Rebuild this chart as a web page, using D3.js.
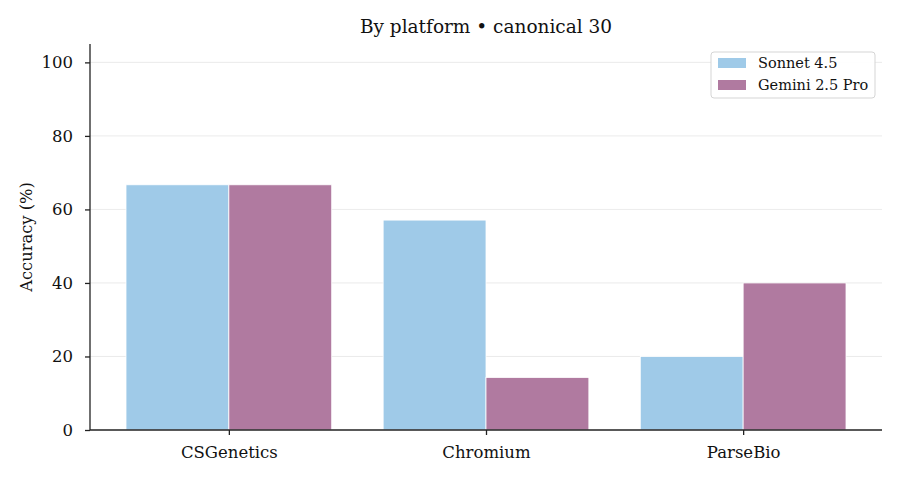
<!DOCTYPE html>
<html>
<head>
<meta charset="utf-8">
<script src="https://cdn.jsdelivr.net/npm/d3@7"></script>
<style>
  body { margin: 0; background: #fff; }
  svg { font-family: "DejaVu Serif", serif; }
</style>
</head>
<body>
<div id="chart"></div>
<script>
var categories = ["CSGenetics", "Chromium", "ParseBio"];
var seriesNames = ["Sonnet 4.5", "Gemini 2.5 Pro"];
var sonnetValues = [66.7, 57.1, 20.0];
var geminiValues = [66.7, 14.3, 40.0];
var yTicks = [0, 20, 40, 60, 80, 100];
var colors = ["#9fcae8", "#b07aa0"];

var width = 900, height = 480;
var margin = { left: 90, right: 18, top: 44, bottom: 50 };
var w = width - margin.left - margin.right;
var h = height - margin.top - margin.bottom;

var svg = d3.select("#chart").append("svg")
    .attr("width", width)
    .attr("height", height);

var g = svg.append("g")
    .attr("transform", "translate(" + margin.left + "," + margin.top + ")");

// matplotlib-like index axis: bars span -0.4..2.4, plus 5% margins
var x = d3.scaleLinear().domain([-0.54, 2.54]).range([0, w]);
var y = d3.scaleLinear().domain([0, 105]).range([h, 0]);
var barW = 0.4;

// grid
g.selectAll(".grid").data(yTicks.filter(function(d){ return d > 0; }))
    .enter().append("line")
    .attr("x1", 0).attr("x2", w)
    .attr("y1", function(d){ return y(d); })
    .attr("y2", function(d){ return y(d); })
    .attr("stroke", "#e6e6e6")
    .attr("stroke-width", 0.8);

var series = [sonnetValues, geminiValues];
series.forEach(function(vals, s) {
    g.selectAll(".bar" + s).data(vals).enter().append("rect")
        .attr("x", function(d, i){ return x(i - barW + s * barW); })
        .attr("width", x(barW) - x(0))
        .attr("y", function(d){ return y(d); })
        .attr("height", function(d){ return y(0) - y(d); })
        .attr("fill", colors[s])
        .attr("stroke", "#fff")
        .attr("stroke-width", 0.8);
});

// axes
var xAxis = d3.axisBottom(x)
    .tickValues([0, 1, 2])
    .tickFormat(function(d){ return categories[d]; })
    .tickSize(5).tickPadding(11);
var yAxis = d3.axisLeft(y)
    .tickValues(yTicks)
    .tickSize(5).tickPadding(12);

var gx = g.append("g").attr("transform", "translate(0," + h + ")").call(xAxis);
var gy = g.append("g").call(yAxis);

[gx, gy].forEach(function(ax) {
    ax.select(".domain").attr("stroke", "#222").attr("stroke-width", 1.3);
    ax.selectAll(".tick line").attr("stroke", "#222").attr("stroke-width", 1.3);
    ax.selectAll(".tick text")
        .attr("fill", "#111")
        .style("font-family", "DejaVu Serif, serif")
        .style("font-size", "16.5px");
});
gx.select(".domain").attr("d", "M0,0H" + w);
gy.select(".domain").attr("d", "M0," + h + "V0");

svg.append("text")
    .attr("x", 26).attr("y", margin.top + h / 2)
    .attr("transform", "rotate(-90,26," + (margin.top + h / 2) + ")")
    .attr("text-anchor", "middle")
    .attr("dy", "0.35em")
    .style("font-size", "16.3px")
    .attr("fill", "#111")
    .text("Accuracy (%)");

svg.append("text")
    .attr("x", margin.left + w / 2).attr("y", 33)
    .attr("text-anchor", "middle")
    .style("font-size", "18.5px")
    .attr("fill", "#111")
    .text("By platform \u2022 canonical 30");

// legend
var lg = svg.append("g").attr("transform", "translate(711,52)");
lg.append("rect")
    .attr("width", 164).attr("height", 46)
    .attr("rx", 3)
    .attr("fill", "#fff").attr("fill-opacity", 0.9)
    .attr("stroke", "#d5d5d5").attr("stroke-width", 1);
seriesNames.forEach(function(name, i) {
    var row = lg.append("g").attr("transform", "translate(7," + (11 + i * 22) + ")");
    row.append("rect")
        .attr("width", 28).attr("height", 10).attr("y", -5)
        .attr("fill", colors[i]);
    row.append("text")
        .attr("x", 40).attr("dy", "0.35em")
        .style("font-size", "14.5px")
        .attr("fill", "#111")
        .text(name);
});
</script>
</body>
</html>
